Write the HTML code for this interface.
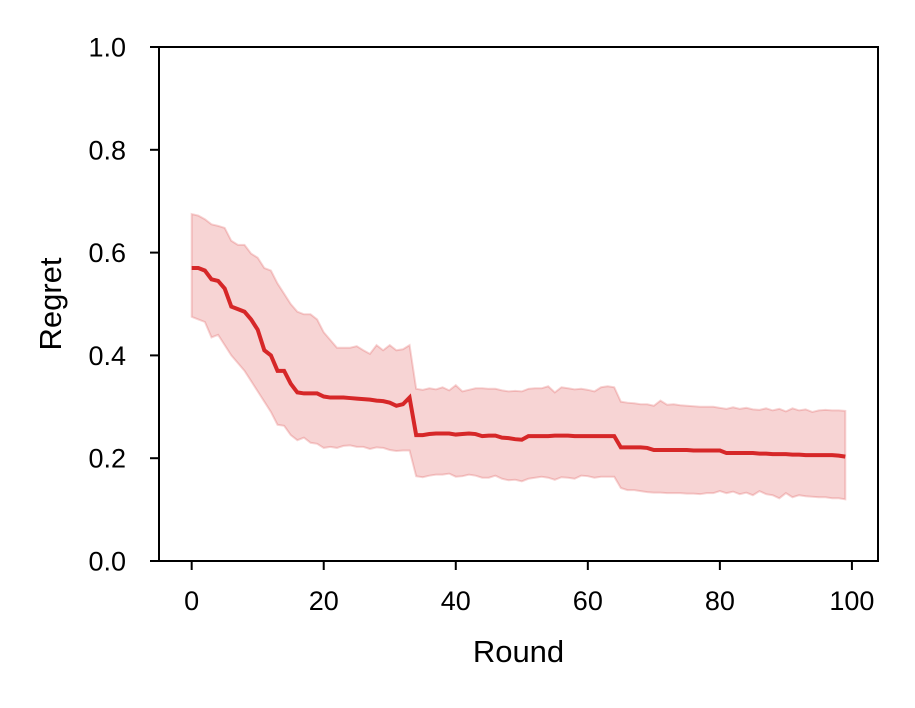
<!DOCTYPE html>
<html><head><meta charset="utf-8"><style>
body{margin:0;background:#fff}
svg text{font-family:"Liberation Sans",Arial,sans-serif;fill:#000}
</style></head><body>
<svg id="chart" width="915" height="703" xmlns="http://www.w3.org/2000/svg">
<g id="plot"></g>
<g id="axes"></g>
</svg>
<script>
const meanVals=[0.57,0.57,0.565,0.548,0.545,0.53,0.495,0.49,0.485,0.47,0.45,0.41,0.40,0.37,0.37,0.345,0.328,0.326,0.326,0.326,0.32,0.318,0.318,0.318,0.317,0.316,0.315,0.314,0.312,0.311,0.308,0.302,0.305,0.318,0.245,0.245,0.247,0.248,0.248,0.248,0.246,0.247,0.248,0.247,0.243,0.244,0.244,0.240,0.239,0.237,0.236,0.243,0.243,0.243,0.243,0.244,0.244,0.244,0.243,0.243,0.243,0.243,0.243,0.243,0.243,0.221,0.221,0.221,0.221,0.220,0.216,0.216,0.216,0.216,0.216,0.216,0.215,0.215,0.215,0.215,0.215,0.210,0.210,0.210,0.210,0.210,0.209,0.209,0.208,0.208,0.208,0.207,0.207,0.206,0.206,0.206,0.206,0.206,0.205,0.203];
const upperVals=[0.675,0.672,0.665,0.655,0.652,0.648,0.623,0.615,0.615,0.598,0.59,0.57,0.565,0.54,0.52,0.5,0.485,0.48,0.48,0.47,0.445,0.43,0.415,0.415,0.415,0.418,0.41,0.403,0.42,0.41,0.42,0.41,0.412,0.42,0.335,0.333,0.336,0.334,0.338,0.332,0.342,0.330,0.333,0.336,0.336,0.335,0.335,0.332,0.330,0.331,0.330,0.335,0.336,0.336,0.340,0.328,0.338,0.336,0.334,0.335,0.333,0.330,0.338,0.340,0.338,0.310,0.308,0.307,0.305,0.305,0.302,0.312,0.304,0.305,0.303,0.302,0.301,0.300,0.300,0.300,0.298,0.296,0.299,0.296,0.298,0.295,0.294,0.297,0.293,0.296,0.291,0.297,0.293,0.295,0.290,0.293,0.294,0.293,0.293,0.292];
const lowerVals=[0.475,0.47,0.465,0.435,0.44,0.42,0.4,0.385,0.37,0.35,0.33,0.31,0.29,0.265,0.263,0.245,0.235,0.24,0.23,0.228,0.22,0.222,0.22,0.224,0.225,0.222,0.222,0.218,0.221,0.220,0.216,0.214,0.215,0.215,0.165,0.163,0.166,0.168,0.168,0.170,0.164,0.165,0.168,0.166,0.162,0.162,0.166,0.160,0.157,0.158,0.155,0.160,0.162,0.164,0.162,0.158,0.163,0.162,0.160,0.166,0.165,0.162,0.164,0.164,0.164,0.142,0.138,0.138,0.136,0.134,0.133,0.133,0.132,0.132,0.132,0.131,0.131,0.130,0.132,0.132,0.136,0.132,0.135,0.130,0.133,0.128,0.136,0.130,0.128,0.122,0.132,0.124,0.128,0.126,0.125,0.124,0.124,0.122,0.122,0.120];
const xTicks=[0,20,40,60,80,100];
const yTicks=[0.0,0.2,0.4,0.6,0.8,1.0];
const L=159,R=878,T=47,B=561;
const xmin=-4.95,xmax=103.95;
const X=v=>L+(v-xmin)/(xmax-xmin)*(R-L);
const Y=v=>B-v*(B-T);
const NS="http://www.w3.org/2000/svg";
function mk(t,a,p){const e=document.createElementNS(NS,t);for(const k in a)e.setAttribute(k,a[k]);p.appendChild(e);return e;}
const plot=document.getElementById('plot'),axes=document.getElementById('axes');
let up=upperVals.map((v,i)=>X(i)+','+Y(v));
let lo=lowerVals.map((v,i)=>X(i)+','+Y(v)).reverse();
const band=mk('polygon',{points:up.concat(lo).join(' '),fill:'#d62728','fill-opacity':0.2,stroke:'#d62728','stroke-opacity':0.2,'stroke-width':2},plot);


const line=mk('polyline',{points:meanVals.map((v,i)=>X(i)+','+Y(v)).join(' '),fill:'none',stroke:'#d62728','stroke-width':4},plot);


const frame=mk('rect',{x:L,y:T,width:R-L,height:B-T,fill:'none',stroke:'#000','stroke-width':2},axes);


xTicks.forEach(t=>{const x=X(t);
 const tk=mk('line',{x1:x,x2:x,y1:B,y2:B+9,stroke:'#000','stroke-width':2},axes);
 
 
 const tx=mk('text',{x:x,y:B+49,'text-anchor':'middle','font-size':27},axes);tx.textContent=t;
 
 });
yTicks.forEach(t=>{const y=Y(t);
 const tk=mk('line',{x1:L-9,x2:L,y1:y,y2:y,stroke:'#000','stroke-width':2},axes);
 
 
 const tx=mk('text',{x:L-33,y:y+9.5,'text-anchor':'end','font-size':27},axes);tx.textContent=t.toFixed(1);
 
 });
const xl=mk('text',{x:(L+R)/2,y:662,'text-anchor':'middle','font-size':31},axes);xl.textContent='Round';


const yl=mk('text',{x:0,y:0,'text-anchor':'middle','font-size':31,transform:'translate(61,'+(T+B)/2+') rotate(-90)'},axes);yl.textContent='Regret';


</script>
</body></html>
